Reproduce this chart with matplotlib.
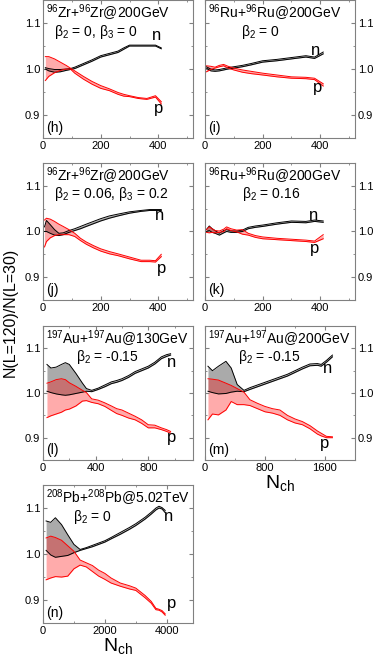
import numpy as np
import matplotlib
matplotlib.use("Agg")
import matplotlib.pyplot as plt
from matplotlib.ticker import MultipleLocator

plt.rcParams['font.family'] = ['Liberation Sans', 'DejaVu Sans']
plt.rcParams['mathtext.fontset'] = 'custom'
plt.rcParams['mathtext.rm'] = 'Liberation Sans'
plt.rcParams['mathtext.it'] = 'Liberation Sans:italic'

# ---- data ----
h_x    = [8, 20, 40, 60, 80, 95, 110, 140, 170, 200, 230, 260, 280, 300, 330, 360, 390, 410]
h_n_hi = [1.003, 1.001, 0.999, 0.999, 1.000, 1.001, 1.004, 1.012, 1.020, 1.029, 1.034, 1.039, 1.046, 1.052, 1.052, 1.052, 1.052, 1.046]
h_n_lo = [1.000, 0.996, 0.993, 0.994, 0.997, 0.999, 1.001, 1.009, 1.017, 1.026, 1.031, 1.036, 1.043, 1.050, 1.050, 1.050, 1.050, 1.044]
h_p_hi = [1.027, 1.027, 1.022, 1.015, 1.008, 1.002, 0.996, 0.984, 0.973, 0.964, 0.957, 0.949, 0.945, 0.942, 0.938, 0.936, 0.942, 0.929]
h_p_lo = [0.975, 0.984, 0.992, 0.997, 1.000, 1.000, 0.991, 0.978, 0.967, 0.958, 0.953, 0.945, 0.941, 0.940, 0.936, 0.934, 0.939, 0.924]

i_x    = [5, 20, 35, 50, 65, 80, 100, 130, 160, 200, 250, 300, 350, 380, 410]
i_n_hi = [1.005, 1.000, 0.998, 0.999, 1.001, 1.003, 1.005, 1.008, 1.012, 1.018, 1.021, 1.025, 1.029, 1.026, 1.037]
i_n_lo = [1.002, 0.996, 0.995, 0.996, 0.998, 1.000, 1.002, 1.005, 1.009, 1.015, 1.018, 1.022, 1.026, 1.023, 1.033]
i_p_hi = [1.007, 1.006, 1.004, 1.008, 1.010, 1.006, 1.002, 0.998, 0.995, 0.991, 0.987, 0.983, 0.982, 0.980, 0.968]
i_p_lo = [0.994, 0.999, 1.002, 1.005, 1.007, 1.002, 0.998, 0.993, 0.990, 0.987, 0.983, 0.980, 0.979, 0.977, 0.963]

j_x    = [5, 12, 25, 40, 55, 70, 90, 110, 130, 150, 175, 200, 230, 260, 300, 340, 370, 390, 410]
j_n_hi = [1.010, 1.024, 1.015, 1.004, 0.996, 0.997, 1.002, 1.006, 1.011, 1.016, 1.022, 1.028, 1.034, 1.038, 1.043, 1.046, 1.048, 1.048, 1.048]
j_n_lo = [1.000, 1.000, 0.996, 0.992, 0.991, 0.993, 0.998, 1.002, 1.006, 1.011, 1.017, 1.023, 1.029, 1.034, 1.040, 1.044, 1.046, 1.046, 1.046]
j_p_hi = [1.025, 1.029, 1.027, 1.022, 1.016, 1.011, 1.004, 0.996, 0.985, 0.977, 0.969, 0.962, 0.956, 0.951, 0.944, 0.937, 0.937, 0.936, 0.950]
j_p_lo = [0.966, 0.978, 0.986, 0.991, 0.993, 0.993, 0.993, 0.989, 0.980, 0.972, 0.964, 0.957, 0.951, 0.947, 0.940, 0.934, 0.934, 0.933, 0.945]

k_x    = [5, 15, 25, 35, 50, 65, 75, 90, 110, 130, 150, 175, 200, 250, 300, 350, 380, 410]
k_n_hi = [1.004, 1.012, 1.006, 1.002, 0.996, 1.002, 1.004, 1.001, 1.001, 1.003, 1.009, 1.012, 1.014, 1.019, 1.023, 1.022, 1.025, 1.023]
k_n_lo = [1.000, 1.002, 0.998, 0.996, 0.992, 0.997, 1.000, 0.998, 0.998, 1.000, 1.006, 1.009, 1.011, 1.016, 1.020, 1.019, 1.022, 1.020]
k_p_hi = [1.004, 1.010, 1.006, 1.002, 1.001, 1.005, 1.010, 1.006, 1.003, 1.004, 0.996, 0.991, 0.988, 0.985, 0.983, 0.981, 0.979, 0.993]
k_p_lo = [0.998, 0.997, 0.998, 0.997, 0.998, 1.000, 1.006, 1.002, 0.999, 0.994, 0.992, 0.987, 0.984, 0.982, 0.980, 0.978, 0.976, 0.984]

l_x    = [30, 60, 100, 140, 170, 200, 250, 300, 330, 370, 420, 470, 520, 560, 600, 650, 700, 750, 800, 850, 900, 940, 970]
l_n_hi = [1.064, 1.056, 1.058, 1.064, 1.068, 1.064, 1.044, 1.022, 1.010, 1.006, 1.011, 1.018, 1.025, 1.028, 1.032, 1.039, 1.048, 1.054, 1.060, 1.069, 1.081, 1.086, 1.088]
l_n_lo = [1.004, 1.001, 0.998, 0.996, 0.995, 0.996, 0.999, 1.002, 1.004, 1.003, 1.008, 1.014, 1.021, 1.024, 1.028, 1.035, 1.044, 1.050, 1.056, 1.065, 1.077, 1.082, 1.085]
l_p_hi = [1.022, 1.025, 1.030, 1.032, 1.030, 1.023, 1.015, 1.006, 1.001, 0.987, 0.984, 0.978, 0.971, 0.965, 0.962, 0.955, 0.948, 0.940, 0.929, 0.928, 0.922, 0.918, 0.914]
l_p_lo = [0.945, 0.949, 0.953, 0.957, 0.962, 0.964, 0.971, 0.982, 0.983, 0.979, 0.976, 0.970, 0.961, 0.954, 0.950, 0.944, 0.940, 0.932, 0.922, 0.922, 0.918, 0.914, 0.910]

m_x    = [40, 100, 180, 280, 350, 430, 520, 600, 700, 800, 900, 1000, 1100, 1200, 1300, 1400, 1500, 1550, 1620, 1700]
m_n_hi = [1.060, 1.050, 1.060, 1.071, 1.056, 1.019, 1.006, 1.012, 1.018, 1.024, 1.030, 1.036, 1.042, 1.050, 1.058, 1.065, 1.066, 1.064, 1.073, 1.085]
m_n_lo = [1.004, 1.001, 0.998, 0.999, 1.002, 1.004, 1.003, 1.008, 1.014, 1.020, 1.026, 1.032, 1.038, 1.046, 1.054, 1.061, 1.062, 1.060, 1.069, 1.081]
m_p_hi = [1.032, 1.031, 1.029, 1.022, 1.017, 1.010, 1.002, 0.985, 0.977, 0.970, 0.965, 0.962, 0.950, 0.942, 0.936, 0.927, 0.915, 0.910, 0.903, 0.902]
m_p_lo = [0.940, 0.953, 0.951, 0.962, 0.981, 0.974, 0.974, 0.972, 0.965, 0.958, 0.955, 0.950, 0.940, 0.933, 0.929, 0.920, 0.908, 0.904, 0.900, 0.900]

n_x    = [100, 250, 400, 600, 800, 1000, 1200, 1400, 1600, 1800, 2000, 2200, 2500, 2800, 3000, 3300, 3500, 3650, 3750, 3850, 3950]
n_n_hi = [1.072, 1.069, 1.079, 1.064, 1.042, 1.021, 1.010, 1.014, 1.019, 1.024, 1.029, 1.036, 1.047, 1.058, 1.066, 1.080, 1.091, 1.100, 1.104, 1.101, 1.095]
n_n_lo = [1.008, 0.998, 0.993, 0.995, 0.997, 1.003, 1.008, 1.012, 1.016, 1.021, 1.026, 1.033, 1.043, 1.054, 1.062, 1.076, 1.087, 1.096, 1.100, 1.098, 1.090]
n_p_hi = [1.035, 1.039, 1.036, 1.030, 1.018, 1.006, 0.987, 0.981, 0.975, 0.965, 0.958, 0.948, 0.937, 0.931, 0.926, 0.910, 0.897, 0.882, 0.880, 0.877, 0.870]
n_p_lo = [0.944, 0.948, 0.951, 0.950, 0.952, 0.968, 0.976, 0.972, 0.962, 0.952, 0.945, 0.937, 0.930, 0.924, 0.921, 0.905, 0.893, 0.879, 0.878, 0.874, 0.867]

fig = plt.figure(figsize=(3.74, 6.6), dpi=100)

W = 0.401
def make_ax(left, bottom, height, xmax, xmaj, right_labels):
    ax = fig.add_axes([left, bottom, W, height])
    ax.set_xlim(0, xmax)
    ax.set_ylim(0.85, 1.15)
    ax.xaxis.set_major_locator(MultipleLocator(xmaj))
    ax.xaxis.set_minor_locator(MultipleLocator(xmaj / 2))
    ax.yaxis.set_major_locator(MultipleLocator(0.1))
    ax.yaxis.set_minor_locator(MultipleLocator(0.05))
    ax.yaxis.set_major_formatter(matplotlib.ticker.FormatStrFormatter('%.1f'))
    ax.tick_params(which='both', direction='in', top=True, right=True,
                   color='#808080', labelsize=8, pad=2)
    ax.tick_params(which='major', length=3)
    ax.tick_params(which='minor', length=1.5)
    if right_labels:
        ax.tick_params(axis='y', labelleft=False, labelright=True)
    for s in ax.spines.values():
        s.set_color('#808080')
        s.set_linewidth(0.8)
    return ax

def draw(ax, x, n_lo, n_hi, p_lo, p_hi):
    ax.fill_between(x, n_lo, n_hi, color='#aaaaaa', lw=0)
    ax.plot(x, n_lo, color='k', lw=0.7)
    ax.plot(x, n_hi, color='k', lw=0.7)
    ax.fill_between(x, p_lo, p_hi, color='red', alpha=0.33, lw=0)
    ax.plot(x, p_lo, color='red', lw=0.7)
    ax.plot(x, p_hi, color='red', lw=0.7)

def labels(ax, title, beta, bx, tag, npos, ppos):
    ax.text(0.02, 0.985, title, transform=ax.transAxes, fontsize=10, va='top', ha='left')
    ax.text(bx, 0.77, beta, transform=ax.transAxes, fontsize=10, va='center', ha='left')
    ax.text(0.02, 0.02, tag, transform=ax.transAxes, fontsize=10, va='bottom', ha='left')
    ax.text(npos[0], npos[1], 'n', fontsize=12, ha='center', va='center')
    ax.text(ppos[0], ppos[1], 'p', fontsize=12, ha='center', va='center')

L, R = 0.115, 0.548
rows = [(0.7909, 0.209), (0.5455, 0.2076), (0.303, 0.203), (0.056, 0.209)]

zr = '$^{96}$Zr+$^{96}$Zr@200GeV'
ru = '$^{96}$Ru+$^{96}$Ru@200GeV'

ax = make_ax(L, *rows[0], 520, 200, False)
draw(ax, h_x, h_n_lo, h_n_hi, h_p_lo, h_p_hi)
labels(ax, zr, 'β$_2$ = 0, β$_3$ = 0', 0.07, '(h)', (395, 1.072), (400, 0.915))

ax = make_ax(R, *rows[0], 520, 200, True)
draw(ax, i_x, i_n_lo, i_n_hi, i_p_lo, i_p_hi)
labels(ax, ru, 'β$_2$ = 0', 0.24, '(i)', (383, 1.041), (390, 0.959))

ax = make_ax(L, *rows[1], 520, 200, False)
draw(ax, j_x, j_n_lo, j_n_hi, j_p_lo, j_p_hi)
labels(ax, zr, 'β$_2$ = 0.06, β$_3$ = 0.2', 0.07, '(j)', (405, 1.035), (410, 0.918))

ax = make_ax(R, *rows[1], 520, 200, True)
draw(ax, k_x, k_n_lo, k_n_hi, k_p_lo, k_p_hi)
labels(ax, ru, 'β$_2$ = 0.16', 0.25, '(k)', (378, 1.035), (380, 0.962))

ax = make_ax(L, *rows[2], 1140, 400, False)
draw(ax, l_x, l_n_lo, l_n_hi, l_p_lo, l_p_hi)
labels(ax, '$^{197}$Au+$^{197}$Au@130GeV', 'β$_2$ = -0.15', 0.22, '(l)', (975, 1.068), (980, 0.900))

ax = make_ax(R, *rows[2], 2000, 800, True)
draw(ax, m_x, m_n_lo, m_n_hi, m_p_lo, m_p_hi)
labels(ax, '$^{197}$Au+$^{197}$Au@200GeV', 'β$_2$ = -0.15', 0.22, '(m)', (1630, 1.055), (1600, 0.888))
ax.set_xlabel('N$_{\\rm ch}$', fontsize=14, labelpad=0)

ax = make_ax(L, *rows[3], 4850, 2000, False)
draw(ax, n_x, n_n_lo, n_n_hi, n_p_lo, n_p_hi)
labels(ax, '$^{208}$Pb+$^{208}$Pb@5.02TeV', 'β$_2$ = 0', 0.2, '(n)', (4060, 1.082), (4150, 0.893))
ax.set_xlabel('N$_{\\rm ch}$', fontsize=14, labelpad=0)

fig.text(0.027, 0.527, 'N(L=120)/N(L=30)', rotation=90, fontsize=11.5, ha='center', va='center')

fig.savefig('out.png', dpi=100)
